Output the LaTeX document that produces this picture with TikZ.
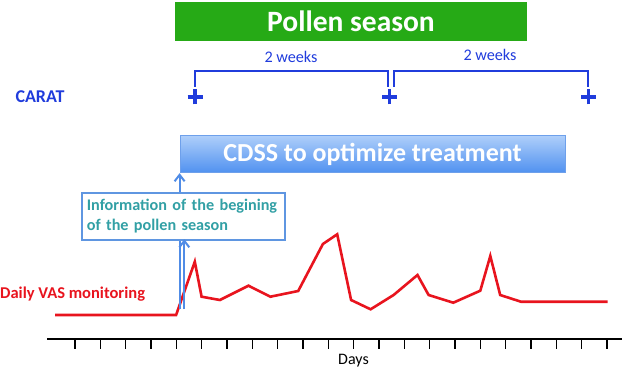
\documentclass[tikz,border=0pt]{standalone}
\usepackage{fontspec}
\setmainfont{Carlito}
\usetikzlibrary{arrows.meta}
\definecolor{pgreen}{RGB}{38,170,22}
\definecolor{cblue}{RGB}{32,60,220}
\definecolor{ltop}{RGB}{175,207,250}
\definecolor{lbot}{RGB}{80,145,240}
\definecolor{lborder}{RGB}{110,160,235}
\definecolor{iborder}{RGB}{95,150,225}
\definecolor{iteal}{RGB}{50,160,165}
\definecolor{arrblue}{RGB}{80,140,230}
\definecolor{vasred}{RGB}{232,20,30}
\tikzset{
  lbl/.style={inner sep=0pt, anchor=center},
  bracketline/.style={cblue, line width=1.8pt},
  plusmark/.style={cblue, line width=3.2pt},
  uparrow/.style={arrblue, line width=2pt, -{Straight Barb[length=6.5pt,width=10pt,line width=2pt]}},
  upline/.style={arrblue, line width=2pt},
}
\begin{document}
\begin{tikzpicture}[x=1pt,y=-1pt]
\useasboundingbox (0,0) rectangle (622,369);
% Pollen season bar
\node[fill=pgreen, minimum width=352pt, minimum height=39pt, inner sep=0pt,
      text=white, font=\bfseries\fontsize{29.5}{34}\selectfont] (pollen) at (351,21.5) {Pollen season};
% CARAT
\node[lbl, text=cblue, font=\bfseries\fontsize{18}{21}\selectfont] (carat) at (40,97) {CARAT};
% plus marks
\coordinate (p1) at (195,97);
\coordinate (p2) at (389.7,97);
\coordinate (p3) at (588.5,97);
\foreach \p in {p1,p2,p3}{
  \draw[plusmark] ([xshift=-7.5pt]\p) -- ([xshift=7.5pt]\p);
  \draw[plusmark] ([yshift=-7.5pt]\p) -- ([yshift=7.5pt]\p);
}
% brackets
\coordinate (b1a) at (195,87);
\coordinate (b1b) at (387.7,87);
\coordinate (b2a) at (393.6,87);
\coordinate (b2b) at (587.7,87);
\draw[bracketline] (b1a) -- ++(0,-16) -| (b1b);
\draw[bracketline] (b2a) -- ++(0,-16) -| (b2b);
\node[lbl, text=cblue, font=\fontsize{16.2}{19}\selectfont] (w1) at (291,57) {2 weeks};
\node[lbl, text=cblue, font=\fontsize{16.2}{19}\selectfont] (w2) at (490,55) {2 weeks};
% CDSS box
\node[draw=lborder, line width=0.8pt, top color=ltop, bottom color=lbot,
      minimum width=385pt, minimum height=37.5pt, inner sep=0pt,
      text=white, font=\bfseries\fontsize{26}{30}\selectfont] (cdss) at (372.5,154) {CDSS to optimize treatment};
% info box
\node[draw=iborder, line width=1.6pt, fill=white, minimum width=203pt, minimum height=47pt,
      text width=193pt, align=left, inner sep=5pt,
      text=iteal, font=\bfseries\fontsize{16.2}{20}\selectfont] (info) at (183.4,216.4)
      {Information of the begining\\of the pollen season};
% arrows
\draw[uparrow] (cdss.south west |- info.north) -- (cdss.south west);
\coordinate (s1) at (180,309);
\coordinate (s2) at (184.3,309);
% VAS line
\node[lbl, anchor=west, text=vasred, font=\bfseries\fontsize{16.5}{19}\selectfont] (vas) at (0,294) {Daily VAS monitoring};
\draw[vasred, line width=2.6pt, line join=miter]
  (55,315) -- (176.1,315) -- (194.8,261.7) -- (201.6,296.7) -- (219.9,300) -- (248.5,285.7)
  -- (270.4,296.7) -- (298.2,291) -- (322.9,244) -- (337.2,234.3) -- (351.1,300)
  -- (370.6,309.3) -- (393.6,295) -- (417.5,275) -- (428.6,295) -- (453.3,302.7)
  -- (480.3,290.7) -- (490.3,256) -- (500.2,295) -- (520.9,301.7) -- (607.6,301.7);
% arrow shafts over the line
\draw[upline] (s1) -- (s1 |- info.south);
\draw[uparrow] (s2) -- ([yshift=1.5pt]s2 |- info.south);
% axis
\coordinate (ax0) at (47,339);
\coordinate (ax1) at (622,339);
\draw[black, line width=2pt] (ax0) -- (ax1);
\foreach \i in {0,...,21}{
  \draw[black, line width=1.4pt] ({75+\i*25.33},339) -- ++(0,9.5);
}
\node[lbl, font=\fontsize{16}{19}\selectfont] (days) at (353.5,361) {Days};
\end{tikzpicture}
\end{document}
